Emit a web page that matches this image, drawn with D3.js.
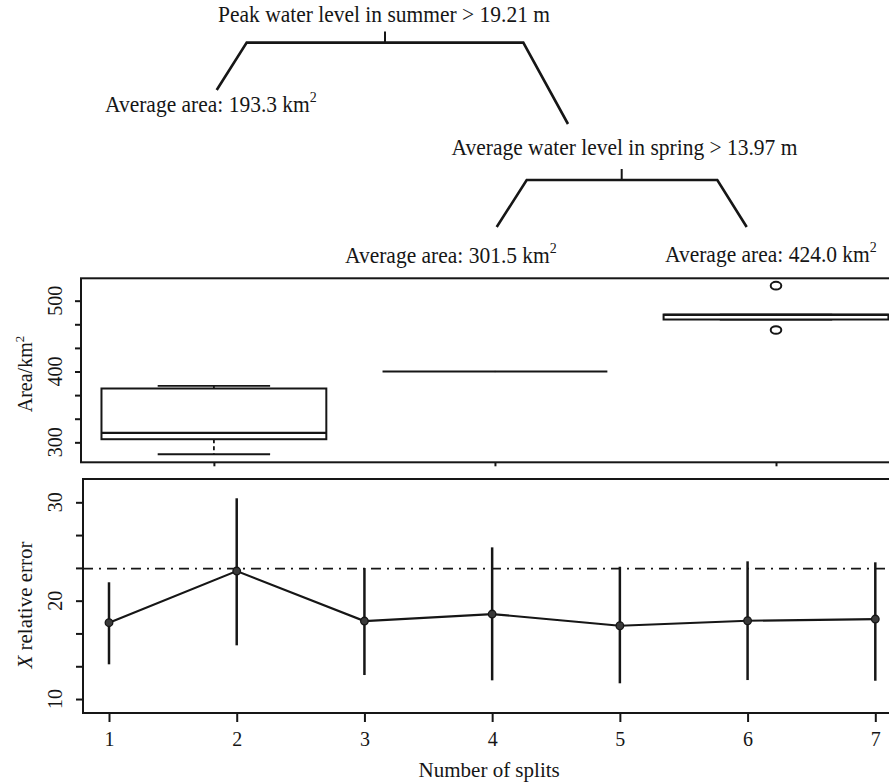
<!DOCTYPE html>
<html>
<head>
<meta charset="utf-8">
<script src="https://cdn.jsdelivr.net/npm/d3@7"></script>
<style>
  html, body { margin: 0; padding: 0; background: #fff; }
  svg { display: block; }
</style>
</head>
<body>
<script>
// ---------------- DATA ----------------
// Regression tree labels
const treeSplits = ["Peak water level in summer > 19.21 m", "Average water level in spring > 13.97 m"];
const leafValues = [193.3, 301.5, 424.0];

// Box plot of area (km²) per terminal group
const boxGroups   = [1, 2, 3];
const boxQ1       = [304.4, 400, 473.4];
const boxMedian   = [313.4, 400, 480.0];
const boxQ3       = [376.0, 400, 480.4];
const boxWhiskLo  = [283.2, 400, 473.4];
const boxWhiskHi  = [379.8, 400, 480.4];
const boxOutliers = [[], [], [521.2, 458.6]];
const areaTicks   = [300, 333.33, 366.67, 400, 433.33, 466.67, 500];
const areaLabels  = [300, 400, 500];

// Cross-validated relative error vs. number of splits
const splits    = [1, 2, 3, 4, 5, 6, 7];
const relErr    = [17.76, 23.01, 17.93, 18.64, 17.45, 17.96, 18.13];
const relErrHi  = [21.87, 30.41, 23.32, 25.42, 23.45, 24.00, 23.90];
const relErrLo  = [13.53, 15.46, 12.44, 11.90, 11.60, 11.93, 11.86];
const errThreshold = 23.25;
const errTicks  = [10, 13.33, 16.67, 20, 23.33, 26.67, 30];
const errLabels = [10, 20, 30];

// ---------------- SETUP ----------------
const W = 889, H = 782;
const serif = "'Liberation Serif','Times New Roman',Times,serif";
const ink = "#161616";

const svg = d3.select("body").append("svg")
  .attr("width", W).attr("height", H)
  .attr("font-family", serif);
svg.append("rect").attr("width", W).attr("height", H).attr("fill", "#fff");

// ---------------- TREE ----------------
const treeG = svg.append("g").attr("fill", "none").attr("stroke", ink)
  .attr("stroke-width", 2.6).attr("stroke-linejoin", "miter");
// layout (pixels): stem, bar (left x, right x, y), leg ends
const treeLayout = [
  { stem: [385, 31.5], bar: [246.7, 523.3, 42.6], left: [216.7, 90], right: [568, 124] },
  { stem: [621.7, 169], bar: [526.7, 717.3, 180], left: [496.7, 227], right: [746.7, 227] }
];
const line = d3.line();
treeLayout.forEach(t => {
  treeG.append("path").attr("d", line([t.left, [t.bar[0], t.bar[2]], [t.bar[1], t.bar[2]], t.right]));
  treeG.append("path").attr("stroke-width", 2).attr("d", line([[t.stem[0], t.stem[1]], [t.stem[0], t.bar[2]]]));
});

const treeText = svg.append("g").attr("fill", ink).attr("font-size", 21.5);
const splitPos = [[384, 21.7], [624.5, 155]];
treeSplits.forEach((s, i) => {
  treeText.append("text")
    .attr("transform", `translate(${splitPos[i][0]},${splitPos[i][1]}) scale(1,1.06)`)
    .attr("text-anchor", "middle").text(s);
});
const leafPos = [[105, 111.7], [345, 262.5], [665, 262]];
leafValues.forEach((v, i) => {
  const t = treeText.append("text")
    .attr("transform", `translate(${leafPos[i][0]},${leafPos[i][1]}) scale(1,1.06)`);
  t.append("tspan").text(`Average area: ${v.toFixed(1)} km`);
  t.append("tspan").attr("dy", -9).attr("font-size", 14).text("2");
});

// ---------------- BOX PLOT PANEL ----------------
const boxTop = 278.3, boxBottom = 462.3, boxLeft = 81;
const xBox = d3.scaleLinear().domain([1, 3]).range([213.9, 776]);
const yArea = d3.scaleLinear().domain([271.8, 531.6]).range([boxBottom, boxTop]);
const halfW = (xBox(1.4) - xBox(1));

const boxP = svg.append("g");
boxP.append("rect").attr("x", boxLeft).attr("y", boxTop)
  .attr("width", W + 20 - boxLeft).attr("height", boxBottom - boxTop)
  .attr("fill", "none").attr("stroke", ink).attr("stroke-width", 2);

// y axis
const yAxA = boxP.append("g").attr("transform", `translate(${boxLeft},0)`)
  .call(d3.axisLeft(yArea).tickValues(areaTicks).tickSize(6).tickFormat(""));
yAxA.select(".domain").remove();
yAxA.selectAll("line").attr("stroke", ink).attr("stroke-width", 2);
areaLabels.forEach(v => {
  boxP.append("text").attr("transform", `translate(62,${yArea(v)}) rotate(-90)`)
    .attr("text-anchor", "middle").attr("font-size", 20).attr("fill", ink).text(v);
});
// x ticks
const xAxA = boxP.append("g").attr("transform", `translate(0,${boxBottom})`)
  .call(d3.axisBottom(xBox).tickValues(boxGroups).tickSize(4).tickFormat(""));
xAxA.select(".domain").remove();
xAxA.selectAll("line").attr("stroke", ink).attr("stroke-width", 2);

const yTitleA = boxP.append("text").attr("transform", `translate(32,374) rotate(-90)`)
  .attr("text-anchor", "middle").attr("font-size", 20).attr("fill", ink);
yTitleA.append("tspan").text("Area/km");
yTitleA.append("tspan").attr("dy", -8).attr("font-size", 13).text("2");

boxGroups.forEach((g, i) => {
  const cx = xBox(g);
  const gg = boxP.append("g").attr("stroke", ink).attr("fill", "none");
  const flat = boxQ1[i] === boxQ3[i];
  // whiskers (dashed)
  gg.append("line").attr("x1", cx).attr("x2", cx).attr("y1", yArea(boxQ1[i])).attr("y2", yArea(boxWhiskLo[i]))
    .attr("stroke-width", 1.8).attr("stroke-dasharray", "4,3");
  gg.append("line").attr("x1", cx).attr("x2", cx).attr("y1", yArea(boxQ3[i])).attr("y2", yArea(boxWhiskHi[i]))
    .attr("stroke-width", 1.8).attr("stroke-dasharray", "4,3");
  // staples
  if (!flat) {
    [boxWhiskLo[i], boxWhiskHi[i]].forEach(v => {
      gg.append("line").attr("x1", cx - halfW / 2).attr("x2", cx + halfW / 2)
        .attr("y1", yArea(v)).attr("y2", yArea(v)).attr("stroke-width", 1.8);
    });
    // box
    gg.append("rect").attr("x", cx - halfW).attr("width", 2 * halfW)
      .attr("y", yArea(boxQ3[i])).attr("height", yArea(boxQ1[i]) - yArea(boxQ3[i]))
      .attr("fill", "#fff").attr("stroke-width", 2);
  }
  // median
  gg.append("line").attr("x1", cx - halfW).attr("x2", cx + halfW)
    .attr("y1", yArea(boxMedian[i])).attr("y2", yArea(boxMedian[i])).attr("stroke-width", flat ? 1.8 : 2.2);
  // outliers
  boxOutliers[i].forEach(o => {
    gg.append("ellipse").attr("cx", cx).attr("cy", yArea(o)).attr("rx", 5.3).attr("ry", 3.8)
      .attr("fill", "#fff").attr("stroke-width", 2);
  });
});

// ---------------- ERROR PANEL ----------------
const eTop = 479, eBottom = 713, eLeft = 83;
const xS = d3.scaleLinear().domain([1, 7]).range([109, 875.3]);
const yErr = d3.scaleLinear().domain([8.58, 32.37]).range([eBottom, eTop]);

const errP = svg.append("g");
errP.append("rect").attr("x", eLeft).attr("y", eTop)
  .attr("width", W + 20 - eLeft).attr("height", eBottom - eTop)
  .attr("fill", "none").attr("stroke", ink).attr("stroke-width", 2);

const yAxE = errP.append("g").attr("transform", `translate(${eLeft},0)`)
  .call(d3.axisLeft(yErr).tickValues(errTicks).tickSize(7).tickFormat(""));
yAxE.select(".domain").remove();
yAxE.selectAll("line").attr("stroke", ink).attr("stroke-width", 2);
errLabels.forEach(v => {
  errP.append("text").attr("transform", `translate(62,${yErr(v)}) rotate(-90)`)
    .attr("text-anchor", "middle").attr("font-size", 20).attr("fill", ink).text(v);
});

const xAxE = errP.append("g").attr("transform", `translate(0,${eBottom})`)
  .call(d3.axisBottom(xS).tickValues(splits).tickSize(9).tickPadding(10).tickFormat(d3.format("d")));
xAxE.select(".domain").remove();
xAxE.selectAll("line").attr("stroke", ink).attr("stroke-width", 2);
xAxE.selectAll("text").attr("font-family", serif).attr("font-size", 20).attr("fill", ink);

errP.append("text").attr("x", xS(4) - 3).attr("y", 776.5).attr("text-anchor", "middle")
  .attr("font-size", 21).attr("fill", ink).text("Number of splits");
const yTitleE = errP.append("text").attr("transform", `translate(32,605) rotate(-90)`)
  .attr("text-anchor", "middle").attr("font-size", 21).attr("fill", ink);
yTitleE.append("tspan").attr("font-style", "italic").text("X");
yTitleE.append("tspan").text(" relative error");

// threshold dash-dot
errP.append("line").attr("x1", eLeft).attr("x2", W).attr("y1", yErr(errThreshold)).attr("y2", yErr(errThreshold))
  .attr("stroke", ink).attr("stroke-width", 1.8).attr("stroke-dasharray", "10,6,2,6");

// error bars
errP.append("g").selectAll("line").data(splits).join("line")
  .attr("x1", d => xS(d)).attr("x2", d => xS(d))
  .attr("y1", (d, i) => yErr(relErrHi[i])).attr("y2", (d, i) => yErr(relErrLo[i]))
  .attr("stroke", ink).attr("stroke-width", 2.5);

// mean line
errP.append("path").datum(splits)
  .attr("d", d3.line().x(d => xS(d)).y((d, i) => yErr(relErr[i])))
  .attr("fill", "none").attr("stroke", ink).attr("stroke-width", 2.2);

errP.append("g").selectAll("circle").data(splits).join("circle")
  .attr("cx", d => xS(d)).attr("cy", (d, i) => yErr(relErr[i])).attr("r", 3.8)
  .attr("fill", "#3a3a3a").attr("stroke", ink).attr("stroke-width", 1.3);
</script>
</body>
</html>
